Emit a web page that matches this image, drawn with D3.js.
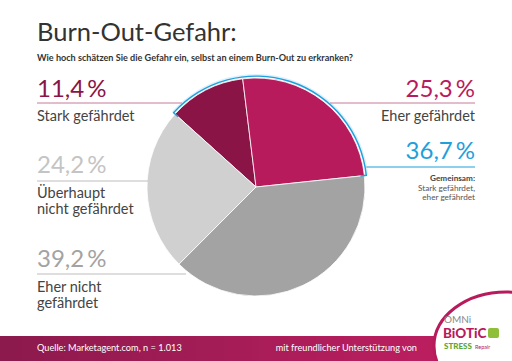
<!DOCTYPE html>
<html>
<head>
<meta charset="utf-8">
<script src="https://cdn.jsdelivr.net/npm/d3@7"></script>
<style>
  html, body { margin: 0; padding: 0; background: #fff; }
  svg { display: block; font-family: Lato, 'Open Sans', sans-serif; }
</style>
</head>
<body>
<div id="vis"></div>
<script>
const FRAME_WIDTH = 512;
const FRAME_HEIGHT = 361;

// data
const categories = ['Stark gefährdet', 'Eher gefährdet', 'Eher nicht gefährdet', 'Überhaupt nicht gefährdet'];
const values = [11.4, 25.3, 39.2, 24.2];
const sliceColors = ['#8a1446', '#b81b5c', '#a3a3a3', '#d0d0d0'];
const combinedValue = 36.7;

const fmt = (v) => d3.format('.1f')(v).replace('.', ',') + '\u2009%';

const PIE = { cx: 256, cy: 187, r: 109 };

const FRAME = d3
  .select('#vis')
  .append('svg')
  .attr('width', FRAME_WIDTH)
  .attr('height', FRAME_HEIGHT);

// footer band
const defs = FRAME.append('defs');
const grad = defs.append('linearGradient').attr('id', 'band').attr('x1', '0').attr('x2', '1');
grad.append('stop').attr('offset', '0%').attr('stop-color', '#8c1a4c');
grad.append('stop').attr('offset', '100%').attr('stop-color', '#c41f63');
FRAME.append('rect')
  .attr('x', 0).attr('y', 336)
  .attr('width', FRAME_WIDTH).attr('height', 25)
  .attr('fill', 'url(#band)');

// title + question
FRAME.append('text')
  .attr('x', 37).attr('y', 41)
  .attr('font-size', 25.5)
  .attr('fill', '#333')
  .text('Burn-Out-Gefahr:');

FRAME.append('text')
  .attr('x', 37).attr('y', 61)
  .attr('font-size', 9.1)
  .attr('font-weight', 700)
  .attr('fill', '#333')
  .text('Wie hoch schätzen Sie die Gefahr ein, selbst an einem Burn-Out zu erkranken?');

// pie
const pie = d3.pie().sort(null).value((d) => d)
  .startAngle(-48 * Math.PI / 180)
  .endAngle(312 * Math.PI / 180);
const arcs = pie(values);
const arcGen = d3.arc().innerRadius(0).outerRadius(PIE.r);

const G = FRAME.append('g').attr('transform', `translate(${PIE.cx},${PIE.cy})`);

G.selectAll('.slice')
  .data(arcs)
  .enter()
  .append('path')
  .attr('class', 'slice')
  .attr('d', arcGen)
  .attr('fill', (d, i) => sliceColors[i])
  .attr('stroke', '#fff')
  .attr('stroke-width', 0.8);

// blue arc over "stark" + "eher" gefährdet
const a0 = arcs[0].startAngle;
const a1 = arcs[1].endAngle;
G.append('path')
  .attr('d', d3.arc().innerRadius(PIE.r + 1).outerRadius(PIE.r + 4).startAngle(a0).endAngle(a1)())
  .attr('fill', '#d6eefa')
  .attr('opacity', 0.8);
G.append('path')
  .attr('d', d3.arc().innerRadius(PIE.r + 1.2).outerRadius(PIE.r + 2.6).startAngle(a0).endAngle(a1)())
  .attr('fill', '#1ea0dc');
[a0, a1].forEach((a) => {
  G.append('line')
    .attr('x1', Math.sin(a) * (PIE.r - 4)).attr('y1', -Math.cos(a) * (PIE.r - 4))
    .attr('x2', Math.sin(a) * (PIE.r + 2.6)).attr('y2', -Math.cos(a) * (PIE.r + 2.6))
    .attr('stroke', '#1ea0dc')
    .attr('stroke-width', 1.4);
});

// label blocks
const labels = [
  { i: 0, x: 37, anchor: 'start', yNum: 97, yLine: 103, x1: 37, x2: 182, lineColor: '#c77a98', numColor: '#8a1446', lines: ['Stark gefährdet'], yText: 121 },
  { i: 1, x: 475, anchor: 'end', yNum: 97, yLine: 103, x1: 330, x2: 475, lineColor: '#c77a98', numColor: '#b81b5c', lines: ['Eher gefährdet'], yText: 121 },
  { i: 3, x: 37, anchor: 'start', yNum: 173, yLine: 181, x1: 37, x2: 148, lineColor: '#bdbdbd', numColor: '#c4c4c4', lines: ['Überhaupt', 'nicht gefährdet'], yText: 198 },
  { i: 2, x: 37, anchor: 'start', yNum: 267, yLine: 274, x1: 37, x2: 186, lineColor: '#bdbdbd', numColor: '#a3a3a3', lines: ['Eher nicht', 'gefährdet'], yText: 292 }
];

labels.forEach((l) => {
  FRAME.append('line')
    .attr('x1', l.x1).attr('x2', l.x2)
    .attr('y1', l.yLine).attr('y2', l.yLine)
    .attr('stroke', l.lineColor)
    .attr('stroke-width', 1);
  FRAME.append('text')
    .attr('x', l.x).attr('y', l.yNum)
    .attr('text-anchor', l.anchor)
    .attr('font-size', 24)
    .attr('fill', l.numColor)
    .text(fmt(values[l.i]));
  l.lines.forEach((t, k) => {
    FRAME.append('text')
      .attr('x', l.x).attr('y', l.yText + k * 16)
      .attr('text-anchor', l.anchor)
      .attr('font-size', 14.5)
      .attr('fill', '#444')
      .text(t);
  });
});

// combined (blue)
FRAME.append('line')
  .attr('x1', PIE.cx + Math.sin(a1) * (PIE.r + 2)).attr('x2', 475)
  .attr('y1', 167).attr('y2', 167)
  .attr('stroke', '#1ea0dc')
  .attr('stroke-width', 1);
FRAME.append('text')
  .attr('x', 475).attr('y', 159)
  .attr('text-anchor', 'end')
  .attr('font-size', 24)
  .attr('fill', '#1ea0dc')
  .text(fmt(combinedValue));
FRAME.append('text')
  .attr('x', 475).attr('y', 181)
  .attr('text-anchor', 'end')
  .attr('font-size', 8.2)
  .attr('font-weight', 700)
  .attr('fill', '#444')
  .text('Gemeinsam:');
['Stark gefährdet,', 'eher gefährdet'].forEach((t, k) => {
  FRAME.append('text')
    .attr('x', 475).attr('y', 190.5 + k * 9.3)
    .attr('text-anchor', 'end')
    .attr('font-size', 8.2)
    .attr('fill', '#555')
    .text(t);
});

// footer texts
FRAME.append('text')
  .attr('x', 37).attr('y', 351)
  .attr('font-size', 9.2)
  .attr('fill', '#fff')
  .text('Quelle: Marketagent.com, n = 1.013');
FRAME.append('text')
  .attr('x', 417).attr('y', 351)
  .attr('text-anchor', 'end')
  .attr('font-size', 9.2)
  .attr('fill', '#fff')
  .text('mit freundlicher Unterstützung von');

// logo badge
const LOGO = FRAME.append('g');
LOGO.append('ellipse')
  .attr('cx', 506).attr('cy', 346)
  .attr('rx', 72).attr('ry', 54)
  .attr('fill', '#fff')
  .attr('stroke', '#b81b5c')
  .attr('stroke-width', 3);
LOGO.append('text')
  .attr('x', 444).attr('y', 322.5)
  .attr('font-size', 10)
  .attr('fill', '#8a8a8a')
  .text('OMNi');
LOGO.append('text')
  .attr('x', 443).attr('y', 338)
  .attr('font-size', 13.5)
  .attr('font-weight', 900)
  .attr('fill', '#b81b5c')
  .text('BiOTiC');
LOGO.append('rect')
  .attr('x', 488).attr('y', 328)
  .attr('width', 11).attr('height', 10)
  .attr('rx', 2)
  .attr('fill', '#8fbf3a');
LOGO.append('text')
  .attr('x', 444).attr('y', 349)
  .attr('font-size', 8)
  .attr('font-weight', 900)
  .attr('fill', '#5ea832')
  .text('STRESS');
LOGO.append('text')
  .attr('x', 475).attr('y', 349)
  .attr('font-size', 5.5)
  .attr('fill', '#b81b5c')
  .text('Repair');
</script>
</body>
</html>
